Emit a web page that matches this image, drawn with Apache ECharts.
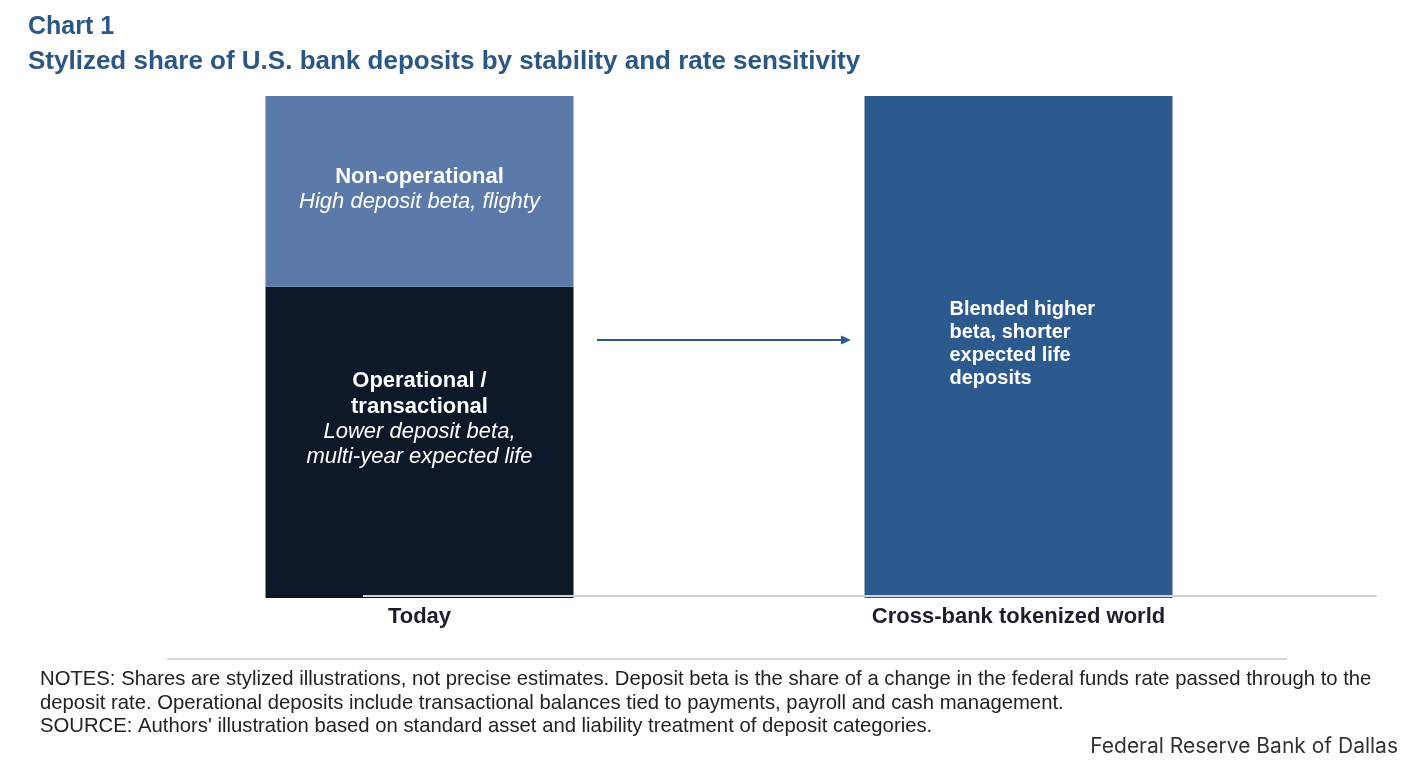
<!DOCTYPE html>
<html>
<head>
<meta charset="utf-8">
<script src="https://cdn.jsdelivr.net/npm/echarts@6/dist/echarts.min.js"></script>
<style>
  html, body { margin: 0; padding: 0; background: #fff; }
  #chart { width: 1413px; height: 779px; }
</style>
</head>
<body>
<div id="chart"></div>
<script>
// categories and stylized shares (percent of deposits)
var categories = ['Today', 'Cross-bank tokenized world'];
var operational = [62, null];
var nonOperational = [38, null];
var blended = [null, 100];

var titleColor = '#2b5784';

var myChart = echarts.init(document.getElementById('chart'));

var option = {
    backgroundColor: '#fff',
    animation: false,
    textStyle: { fontFamily: 'Liberation Sans, Arial, sans-serif' },
    title: [{
        text: 'Chart 1',
        left: 23, top: 10,
        textStyle: { color: titleColor, fontSize: 25, fontWeight: 'bold', fontFamily: 'Liberation Sans' }
    }, {
        text: 'Stylized share of U.S. bank deposits by stability and rate sensitivity',
        left: 23, top: 44,
        textStyle: { color: titleColor, fontSize: 26, fontWeight: 'bold', fontFamily: 'Liberation Sans' }
    }],
    grid: { left: 120, right: 95, top: 96, bottom: 181 },
    xAxis: {
        type: 'category',
        data: categories,
        axisLine: { show: false },
        axisTick: { show: false },
        axisLabel: {
            color: '#1c1f2b',
            fontSize: 22,
            fontWeight: 'bold',
            margin: 8
        }
    },
    yAxis: {
        type: 'value',
        min: 0, max: 100,
        show: false,
        splitLine: { show: false }
    },
    series: [{
        name: 'Operational / transactional',
        type: 'bar',
        stack: 'dep',
        barWidth: 308,
        data: operational,
        itemStyle: { color: '#0d1829' },
        label: {
            show: true,
            position: ['50%', 82],
            align: 'center',
            verticalAlign: 'top',
            formatter: '{b|Operational /}\n{b|transactional}\n{i|Lower deposit beta,}\n{i|multi-year expected life}',
            rich: {
                b: { color: '#fff', fontSize: 22, fontWeight: 'bold', lineHeight: 25.3 },
                i: { color: '#fff', fontSize: 22, fontStyle: 'italic', lineHeight: 25.3 }
            }
        }
    }, {
        name: 'Non-operational',
        type: 'bar',
        stack: 'dep',
        barWidth: 308,
        data: nonOperational,
        itemStyle: { color: '#5b7aa9' },
        label: {
            show: true,
            position: ['50%', 68],
            align: 'center',
            verticalAlign: 'top',
            formatter: '{b|Non-operational}\n{i|High deposit beta, flighty}',
            rich: {
                b: { color: '#fff', fontSize: 22, fontWeight: 'bold', lineHeight: 25 },
                i: { color: '#fff', fontSize: 22, fontStyle: 'italic', lineHeight: 25 }
            }
        }
    }, {
        name: 'Blended',
        type: 'bar',
        stack: 'dep',
        barWidth: 308,
        data: blended,
        itemStyle: { color: '#2c5a8f' },
        label: {
            show: true,
            position: [85, 202],
            align: 'left',
            verticalAlign: 'top',
            formatter: 'Blended higher\nbeta, shorter\nexpected life\ndeposits',
            color: '#fff',
            fontSize: 20,
            fontWeight: 'bold',
            lineHeight: 23
        },
        markLine: {
            silent: true,
            symbol: ['none', 'triangle'],
            symbolSize: [9, 10],
            label: { show: false },
            lineStyle: { color: '#2c5a8f', width: 2, type: 'solid' },
            data: [[{ x: 597, y: 340 }, { x: 846, y: 340 }]]
        }
    }],
    graphic: [{
        // axis baseline
        type: 'line',
        shape: { x1: 363, y1: 596, x2: 1377, y2: 596 },
        style: { stroke: '#cfd3da', lineWidth: 2 },
        z: 100
    }, {
        // separator above notes
        type: 'line',
        shape: { x1: 167, y1: 659, x2: 1287, y2: 659 },
        style: { stroke: '#c9ccd3', lineWidth: 1.5 }
    }, {
        type: 'text',
        left: 40, top: 668,
        style: {
            text: 'NOTES: Shares are stylized illustrations, not precise estimates. Deposit beta is the share of a change in the federal funds rate passed through to the\ndeposit rate. Operational deposits include transactional balances tied to payments, payroll and cash management.\nSOURCE: Authors\' illustration based on standard asset and liability treatment of deposit categories.',
            fill: '#222',
            font: '20.3px "Liberation Sans", Arial, sans-serif',
            lineHeight: 23.5
        }
    }, {
        type: 'text',
        right: 15, top: 736,
        style: {
            text: 'Federal Reserve Bank of Dallas',
            fill: '#333',
            font: '21px Inter, "Open Sans", sans-serif'
        }
    }]
};

myChart.setOption(option);
</script>
</body>
</html>
